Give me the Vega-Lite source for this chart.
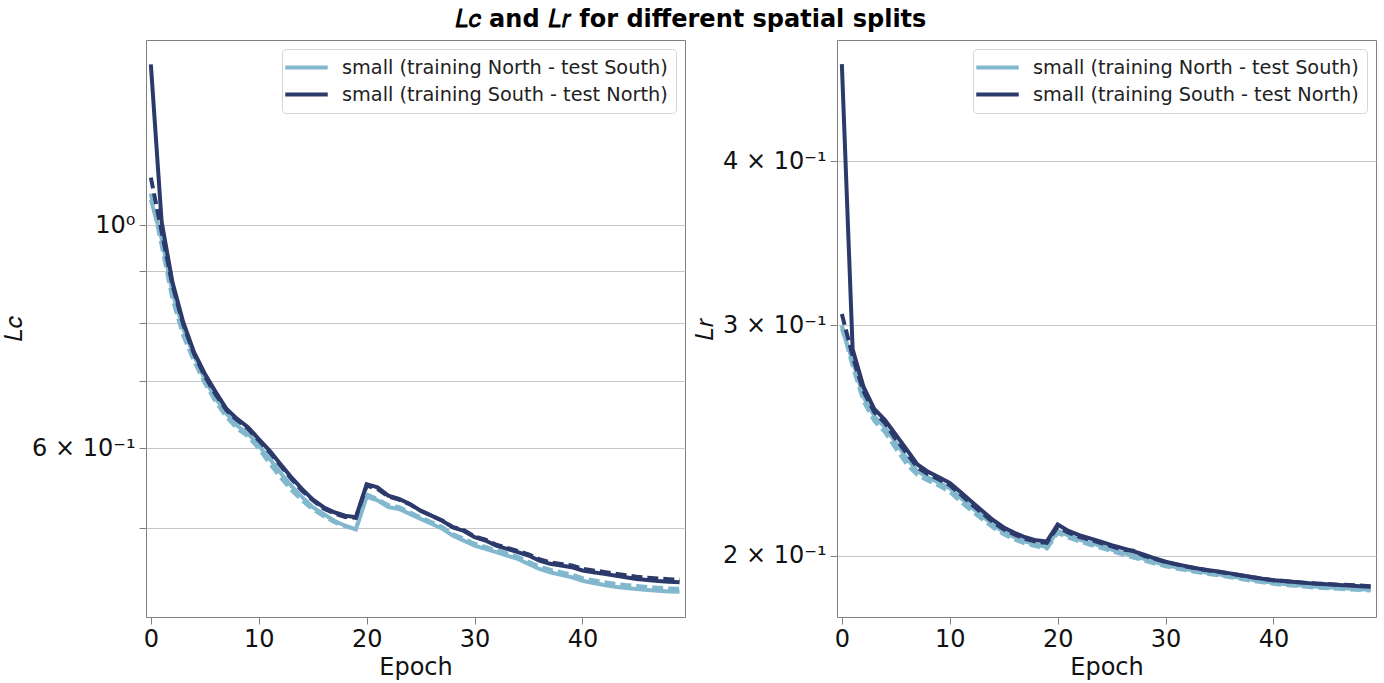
{
"$schema": "https://vega.github.io/schema/vega-lite/v6.json",
"padding": {"left": 2, "top": 7, "right": 6, "bottom": 0},
"title": {"text": "𝐿𝑐 and 𝐿𝑟 for different spatial splits", "font": "DejaVu Sans", "fontSize": 24, "fontWeight": "bold", "anchor": "middle", "color": "#000000", "offset": 8},
"config": {
  "font": "DejaVu Sans",
  "view": {"stroke": "#808080", "strokeWidth": 1},
  "axis": {"domain": false, "tickColor": "#808080", "tickSize": 7, "labelFontSize": 24, "labelColor": "#111111", "titleFontSize": 24, "titleColor": "#111111", "labelFont": "DejaVu Sans", "titleFont": "DejaVu Sans", "titleFontWeight": "normal", "gridColor": "#c8c8c8", "gridWidth": 1},
  "legend": {"orient": "top-right", "offset": 9, "labelFontSize": 19.3, "labelFont": "DejaVu Sans", "labelColor": "#222222", "symbolType": "M-2.5,0H2.5", "symbolStrokeWidth": 4, "symbolSize": 289, "symbolOffset": 6, "labelOffset": 25, "fillColor": "#ffffff", "strokeColor": "#d5d5d5", "cornerRadius": 4, "padding": 8, "rowPadding": 6, "labelLimit": 600}
},
"datasets": {
  "lc_n_train": [{"epoch":0,"loss":1.06},{"epoch":1,"loss":0.970},{"epoch":2,"loss":0.858},{"epoch":3,"loss":0.789},{"epoch":4,"loss":0.742},{"epoch":5,"loss":0.703},{"epoch":6,"loss":0.673},{"epoch":7,"loss":0.650},{"epoch":8,"loss":0.632},{"epoch":9,"loss":0.621},{"epoch":10,"loss":0.604},{"epoch":11,"loss":0.586},{"epoch":12,"loss":0.568},{"epoch":13,"loss":0.551},{"epoch":14,"loss":0.537},{"epoch":15,"loss":0.5245},{"epoch":16,"loss":0.5165},{"epoch":17,"loss":0.5085},{"epoch":18,"loss":0.5028},{"epoch":19,"loss":0.4985},{"epoch":20,"loss":0.5372},{"epoch":21,"loss":0.5328},{"epoch":22,"loss":0.5246},{"epoch":23,"loss":0.5225},{"epoch":24,"loss":0.5166},{"epoch":25,"loss":0.5108},{"epoch":26,"loss":0.505},{"epoch":27,"loss":0.4994},{"epoch":28,"loss":0.4914},{"epoch":29,"loss":0.486},{"epoch":30,"loss":0.4804},{"epoch":31,"loss":0.4769},{"epoch":32,"loss":0.4733},{"epoch":33,"loss":0.4696},{"epoch":34,"loss":0.466},{"epoch":35,"loss":0.4606},{"epoch":36,"loss":0.4554},{"epoch":37,"loss":0.452},{"epoch":38,"loss":0.4493},{"epoch":39,"loss":0.4468},{"epoch":40,"loss":0.4433},{"epoch":41,"loss":0.441},{"epoch":42,"loss":0.439},{"epoch":43,"loss":0.4373},{"epoch":44,"loss":0.436},{"epoch":45,"loss":0.435},{"epoch":46,"loss":0.434},{"epoch":47,"loss":0.4332},{"epoch":48,"loss":0.4326},{"epoch":49,"loss":0.4322}],
  "lc_n_test": [{"epoch":0,"loss":1.075},{"epoch":1,"loss":0.955},{"epoch":2,"loss":0.845},{"epoch":3,"loss":0.777},{"epoch":4,"loss":0.733},{"epoch":5,"loss":0.697},{"epoch":6,"loss":0.668},{"epoch":7,"loss":0.645},{"epoch":8,"loss":0.628},{"epoch":9,"loss":0.617},{"epoch":10,"loss":0.600},{"epoch":11,"loss":0.580},{"epoch":12,"loss":0.562},{"epoch":13,"loss":0.546},{"epoch":14,"loss":0.533},{"epoch":15,"loss":0.522},{"epoch":16,"loss":0.514},{"epoch":17,"loss":0.507},{"epoch":18,"loss":0.502},{"epoch":19,"loss":0.499},{"epoch":20,"loss":0.540},{"epoch":21,"loss":0.5345},{"epoch":22,"loss":0.527},{"epoch":23,"loss":0.5245},{"epoch":24,"loss":0.5185},{"epoch":25,"loss":0.5125},{"epoch":26,"loss":0.507},{"epoch":27,"loss":0.5012},{"epoch":28,"loss":0.4933},{"epoch":29,"loss":0.488},{"epoch":30,"loss":0.4825},{"epoch":31,"loss":0.479},{"epoch":32,"loss":0.4755},{"epoch":33,"loss":0.4718},{"epoch":34,"loss":0.4683},{"epoch":35,"loss":0.463},{"epoch":36,"loss":0.458},{"epoch":37,"loss":0.4546},{"epoch":38,"loss":0.452},{"epoch":39,"loss":0.4495},{"epoch":40,"loss":0.446},{"epoch":41,"loss":0.4438},{"epoch":42,"loss":0.4418},{"epoch":43,"loss":0.4402},{"epoch":44,"loss":0.4389},{"epoch":45,"loss":0.438},{"epoch":46,"loss":0.437},{"epoch":47,"loss":0.4362},{"epoch":48,"loss":0.4356},{"epoch":49,"loss":0.4352}],
  "lc_s_train": [{"epoch":0,"loss":1.445},{"epoch":1,"loss":1.008},{"epoch":2,"loss":0.878},{"epoch":3,"loss":0.801},{"epoch":4,"loss":0.748},{"epoch":5,"loss":0.712},{"epoch":6,"loss":0.683},{"epoch":7,"loss":0.657},{"epoch":8,"loss":0.642},{"epoch":9,"loss":0.630},{"epoch":10,"loss":0.613},{"epoch":11,"loss":0.597},{"epoch":12,"loss":0.579},{"epoch":13,"loss":0.562},{"epoch":14,"loss":0.547},{"epoch":15,"loss":0.534},{"epoch":16,"loss":0.5245},{"epoch":17,"loss":0.5185},{"epoch":18,"loss":0.5145},{"epoch":19,"loss":0.5127},{"epoch":20,"loss":0.553},{"epoch":21,"loss":0.549},{"epoch":22,"loss":0.5386},{"epoch":23,"loss":0.5346},{"epoch":24,"loss":0.5285},{"epoch":25,"loss":0.5204},{"epoch":26,"loss":0.5145},{"epoch":27,"loss":0.5085},{"epoch":28,"loss":0.5007},{"epoch":29,"loss":0.4968},{"epoch":30,"loss":0.4897},{"epoch":31,"loss":0.486},{"epoch":32,"loss":0.4804},{"epoch":33,"loss":0.4769},{"epoch":34,"loss":0.4733},{"epoch":35,"loss":0.4696},{"epoch":36,"loss":0.4643},{"epoch":37,"loss":0.4608},{"epoch":38,"loss":0.459},{"epoch":39,"loss":0.4573},{"epoch":40,"loss":0.4538},{"epoch":41,"loss":0.452},{"epoch":42,"loss":0.4503},{"epoch":43,"loss":0.4486},{"epoch":44,"loss":0.4468},{"epoch":45,"loss":0.4451},{"epoch":46,"loss":0.444},{"epoch":47,"loss":0.443},{"epoch":48,"loss":0.4424},{"epoch":49,"loss":0.4417}],
  "lc_s_test": [{"epoch":0,"loss":1.115},{"epoch":1,"loss":0.985},{"epoch":2,"loss":0.872},{"epoch":3,"loss":0.797},{"epoch":4,"loss":0.745},{"epoch":5,"loss":0.708},{"epoch":6,"loss":0.679},{"epoch":7,"loss":0.655},{"epoch":8,"loss":0.640},{"epoch":9,"loss":0.628},{"epoch":10,"loss":0.611},{"epoch":11,"loss":0.595},{"epoch":12,"loss":0.577},{"epoch":13,"loss":0.560},{"epoch":14,"loss":0.545},{"epoch":15,"loss":0.533},{"epoch":16,"loss":0.523},{"epoch":17,"loss":0.517},{"epoch":18,"loss":0.513},{"epoch":19,"loss":0.512},{"epoch":20,"loss":0.551},{"epoch":21,"loss":0.547},{"epoch":22,"loss":0.5375},{"epoch":23,"loss":0.5338},{"epoch":24,"loss":0.528},{"epoch":25,"loss":0.5202},{"epoch":26,"loss":0.5145},{"epoch":27,"loss":0.5088},{"epoch":28,"loss":0.5012},{"epoch":29,"loss":0.4978},{"epoch":30,"loss":0.4905},{"epoch":31,"loss":0.487},{"epoch":32,"loss":0.4815},{"epoch":33,"loss":0.478},{"epoch":34,"loss":0.4745},{"epoch":35,"loss":0.471},{"epoch":36,"loss":0.4658},{"epoch":37,"loss":0.4624},{"epoch":38,"loss":0.4607},{"epoch":39,"loss":0.459},{"epoch":40,"loss":0.4556},{"epoch":41,"loss":0.4539},{"epoch":42,"loss":0.4523},{"epoch":43,"loss":0.4507},{"epoch":44,"loss":0.449},{"epoch":45,"loss":0.4474},{"epoch":46,"loss":0.4464},{"epoch":47,"loss":0.4455},{"epoch":48,"loss":0.4449},{"epoch":49,"loss":0.4443}],
  "lr_n_train": [{"epoch":0,"loss":0.298},{"epoch":1,"loss":0.2818},{"epoch":2,"loss":0.2645},{"epoch":3,"loss":0.2556},{"epoch":4,"loss":0.2506},{"epoch":5,"loss":0.2440},{"epoch":6,"loss":0.2375},{"epoch":7,"loss":0.2320},{"epoch":8,"loss":0.2295},{"epoch":9,"loss":0.2274},{"epoch":10,"loss":0.2252},{"epoch":11,"loss":0.2215},{"epoch":12,"loss":0.2178},{"epoch":13,"loss":0.2145},{"epoch":14,"loss":0.2112},{"epoch":15,"loss":0.2085},{"epoch":16,"loss":0.2066},{"epoch":17,"loss":0.2050},{"epoch":18,"loss":0.2040},{"epoch":19,"loss":0.2030},{"epoch":20,"loss":0.2090},{"epoch":21,"loss":0.2072},{"epoch":22,"loss":0.2058},{"epoch":23,"loss":0.2046},{"epoch":24,"loss":0.2034},{"epoch":25,"loss":0.2022},{"epoch":26,"loss":0.2011},{"epoch":27,"loss":0.2000},{"epoch":28,"loss":0.1989},{"epoch":29,"loss":0.1978},{"epoch":30,"loss":0.1968},{"epoch":31,"loss":0.1960},{"epoch":32,"loss":0.1953},{"epoch":33,"loss":0.1946},{"epoch":34,"loss":0.1940},{"epoch":35,"loss":0.1935},{"epoch":36,"loss":0.1929},{"epoch":37,"loss":0.1923},{"epoch":38,"loss":0.1917},{"epoch":39,"loss":0.1912},{"epoch":40,"loss":0.1907},{"epoch":41,"loss":0.1903},{"epoch":42,"loss":0.1900},{"epoch":43,"loss":0.1897},{"epoch":44,"loss":0.1894},{"epoch":45,"loss":0.1892},{"epoch":46,"loss":0.1890},{"epoch":47,"loss":0.1888},{"epoch":48,"loss":0.1886},{"epoch":49,"loss":0.1884}],
  "lr_n_test": [{"epoch":0,"loss":0.2998},{"epoch":1,"loss":0.279},{"epoch":2,"loss":0.2625},{"epoch":3,"loss":0.2535},{"epoch":4,"loss":0.2485},{"epoch":5,"loss":0.2415},{"epoch":6,"loss":0.2350},{"epoch":7,"loss":0.2305},{"epoch":8,"loss":0.2282},{"epoch":9,"loss":0.2262},{"epoch":10,"loss":0.2238},{"epoch":11,"loss":0.2200},{"epoch":12,"loss":0.2165},{"epoch":13,"loss":0.2133},{"epoch":14,"loss":0.2102},{"epoch":15,"loss":0.2077},{"epoch":16,"loss":0.2058},{"epoch":17,"loss":0.2043},{"epoch":18,"loss":0.2034},{"epoch":19,"loss":0.2026},{"epoch":20,"loss":0.2082},{"epoch":21,"loss":0.2065},{"epoch":22,"loss":0.2051},{"epoch":23,"loss":0.2039},{"epoch":24,"loss":0.2028},{"epoch":25,"loss":0.2016},{"epoch":26,"loss":0.2005},{"epoch":27,"loss":0.1994},{"epoch":28,"loss":0.1983},{"epoch":29,"loss":0.1973},{"epoch":30,"loss":0.1963},{"epoch":31,"loss":0.1956},{"epoch":32,"loss":0.1949},{"epoch":33,"loss":0.1943},{"epoch":34,"loss":0.1937},{"epoch":35,"loss":0.1932},{"epoch":36,"loss":0.1926},{"epoch":37,"loss":0.1920},{"epoch":38,"loss":0.1914},{"epoch":39,"loss":0.1909},{"epoch":40,"loss":0.1904},{"epoch":41,"loss":0.1900},{"epoch":42,"loss":0.1897},{"epoch":43,"loss":0.1894},{"epoch":44,"loss":0.1891},{"epoch":45,"loss":0.1889},{"epoch":46,"loss":0.1887},{"epoch":47,"loss":0.1885},{"epoch":48,"loss":0.1883},{"epoch":49,"loss":0.1882}],
  "lr_s_train": [{"epoch":0,"loss":0.4745},{"epoch":1,"loss":0.2874},{"epoch":2,"loss":0.2692},{"epoch":3,"loss":0.2589},{"epoch":4,"loss":0.2539},{"epoch":5,"loss":0.2474},{"epoch":6,"loss":0.2411},{"epoch":7,"loss":0.2348},{"epoch":8,"loss":0.2318},{"epoch":9,"loss":0.2296},{"epoch":10,"loss":0.2273},{"epoch":11,"loss":0.2237},{"epoch":12,"loss":0.2200},{"epoch":13,"loss":0.2165},{"epoch":14,"loss":0.2130},{"epoch":15,"loss":0.2102},{"epoch":16,"loss":0.2082},{"epoch":17,"loss":0.2066},{"epoch":18,"loss":0.2055},{"epoch":19,"loss":0.2051},{"epoch":20,"loss":0.2113},{"epoch":21,"loss":0.2089},{"epoch":22,"loss":0.2074},{"epoch":23,"loss":0.2062},{"epoch":24,"loss":0.2050},{"epoch":25,"loss":0.2038},{"epoch":26,"loss":0.2027},{"epoch":27,"loss":0.2016},{"epoch":28,"loss":0.2004},{"epoch":29,"loss":0.1991},{"epoch":30,"loss":0.1979},{"epoch":31,"loss":0.1971},{"epoch":32,"loss":0.1963},{"epoch":33,"loss":0.1956},{"epoch":34,"loss":0.1950},{"epoch":35,"loss":0.1945},{"epoch":36,"loss":0.1939},{"epoch":37,"loss":0.1933},{"epoch":38,"loss":0.1927},{"epoch":39,"loss":0.1921},{"epoch":40,"loss":0.1916},{"epoch":41,"loss":0.1913},{"epoch":42,"loss":0.1910},{"epoch":43,"loss":0.1907},{"epoch":44,"loss":0.1904},{"epoch":45,"loss":0.1902},{"epoch":46,"loss":0.1900},{"epoch":47,"loss":0.1898},{"epoch":48,"loss":0.1896},{"epoch":49,"loss":0.1894}],
  "lr_s_test": [{"epoch":0,"loss":0.3058},{"epoch":1,"loss":0.284},{"epoch":2,"loss":0.267},{"epoch":3,"loss":0.2575},{"epoch":4,"loss":0.2525},{"epoch":5,"loss":0.2455},{"epoch":6,"loss":0.2395},{"epoch":7,"loss":0.2335},{"epoch":8,"loss":0.2308},{"epoch":9,"loss":0.2287},{"epoch":10,"loss":0.2264},{"epoch":11,"loss":0.2228},{"epoch":12,"loss":0.2190},{"epoch":13,"loss":0.2156},{"epoch":14,"loss":0.2122},{"epoch":15,"loss":0.2095},{"epoch":16,"loss":0.2076},{"epoch":17,"loss":0.2060},{"epoch":18,"loss":0.2050},{"epoch":19,"loss":0.2046},{"epoch":20,"loss":0.2105},{"epoch":21,"loss":0.2083},{"epoch":22,"loss":0.2068},{"epoch":23,"loss":0.2057},{"epoch":24,"loss":0.2045},{"epoch":25,"loss":0.2033},{"epoch":26,"loss":0.2022},{"epoch":27,"loss":0.2018},{"epoch":28,"loss":0.2000},{"epoch":29,"loss":0.1989},{"epoch":30,"loss":0.1978},{"epoch":31,"loss":0.1970},{"epoch":32,"loss":0.1962},{"epoch":33,"loss":0.1955},{"epoch":34,"loss":0.1949},{"epoch":35,"loss":0.1944},{"epoch":36,"loss":0.1938},{"epoch":37,"loss":0.1932},{"epoch":38,"loss":0.1926},{"epoch":39,"loss":0.1921},{"epoch":40,"loss":0.1916},{"epoch":41,"loss":0.1913},{"epoch":42,"loss":0.1910},{"epoch":43,"loss":0.1907},{"epoch":44,"loss":0.1905},{"epoch":45,"loss":0.1903},{"epoch":46,"loss":0.1901},{"epoch":47,"loss":0.1900},{"epoch":48,"loss":0.1898},{"epoch":49,"loss":0.1896}]
},
"spacing": 4,
"resolve": {"scale": {"x": "independent", "y": "independent", "color": "independent"}, "legend": {"color": "independent"}},
"hconcat": [
  {
    "width": 539, "height": 577,
    "encoding": {
      "x": {"field": "epoch", "type": "quantitative", "scale": {"domain": [-0.45, 49.5], "nice": false, "zero": false}, "axis": {"values": [0, 10, 20, 30, 40], "grid": false, "title": "Epoch", "labelPadding": 3, "titlePadding": 4, "labelFlush": false}},
      "y": {"field": "loss", "type": "quantitative", "scale": {"type": "log", "domain": [0.408, 1.528], "nice": false}, "axis": {"values": [0.5, 0.6, 0.7, 0.8, 0.9, 1], "labelExpr": "abs(datum.value - 1) < 0.001 ? '10⁰' : (abs(datum.value - 0.6) < 0.001 ? '6 × 10⁻¹' : '')", "grid": true, "title": "𝐿𝑐", "titlePadding": 5, "labelPadding": 4}}
    },
    "layer": [
      {"data": {"name": "lc_n_train"}, "mark": {"type": "line", "strokeWidth": 4}, "encoding": {"color": {"datum": "small (training North - test South)", "scale": {"domain": ["small (training North - test South)", "small (training South - test North)"], "range": ["#82b8ce", "#2c3a6b"]}, "legend": {"title": null}}}},
      {"data": {"name": "lc_n_test"}, "mark": {"type": "line", "strokeWidth": 4, "strokeDash": [11, 5]}, "encoding": {"color": {"datum": "small (training North - test South)", "scale": {"domain": ["small (training North - test South)", "small (training South - test North)"], "range": ["#82b8ce", "#2c3a6b"]}, "legend": {"title": null}}}},
      {"data": {"name": "lc_s_train"}, "mark": {"type": "line", "strokeWidth": 4}, "encoding": {"color": {"datum": "small (training South - test North)", "scale": {"domain": ["small (training North - test South)", "small (training South - test North)"], "range": ["#82b8ce", "#2c3a6b"]}, "legend": {"title": null}}}},
      {"data": {"name": "lc_s_test"}, "mark": {"type": "line", "strokeWidth": 4, "strokeDash": [11, 5]}, "encoding": {"color": {"datum": "small (training South - test North)", "scale": {"domain": ["small (training North - test South)", "small (training South - test North)"], "range": ["#82b8ce", "#2c3a6b"]}, "legend": {"title": null}}}}
    ]
  },
  {
    "width": 539, "height": 577,
    "encoding": {
      "x": {"field": "epoch", "type": "quantitative", "scale": {"domain": [-0.45, 49.5], "nice": false, "zero": false}, "axis": {"values": [0, 10, 20, 30, 40], "grid": false, "title": "Epoch", "labelPadding": 3, "titlePadding": 4, "labelFlush": false}},
      "y": {"field": "loss", "type": "quantitative", "scale": {"type": "log", "domain": [0.1796, 0.495], "nice": false}, "axis": {"values": [0.2, 0.3, 0.4], "labelExpr": "round(datum.value * 10) + ' × 10⁻¹'", "grid": true, "title": "𝐿𝑟", "titlePadding": 5, "labelPadding": 4}}
    },
    "layer": [
      {"data": {"name": "lr_n_train"}, "mark": {"type": "line", "strokeWidth": 4}, "encoding": {"color": {"datum": "small (training North - test South)", "scale": {"domain": ["small (training North - test South)", "small (training South - test North)"], "range": ["#82b8ce", "#2c3a6b"]}, "legend": {"title": null}}}},
      {"data": {"name": "lr_n_test"}, "mark": {"type": "line", "strokeWidth": 4, "strokeDash": [11, 5]}, "encoding": {"color": {"datum": "small (training North - test South)", "scale": {"domain": ["small (training North - test South)", "small (training South - test North)"], "range": ["#82b8ce", "#2c3a6b"]}, "legend": {"title": null}}}},
      {"data": {"name": "lr_s_train"}, "mark": {"type": "line", "strokeWidth": 4}, "encoding": {"color": {"datum": "small (training South - test North)", "scale": {"domain": ["small (training North - test South)", "small (training South - test North)"], "range": ["#82b8ce", "#2c3a6b"]}, "legend": {"title": null}}}},
      {"data": {"name": "lr_s_test"}, "mark": {"type": "line", "strokeWidth": 4, "strokeDash": [11, 5]}, "encoding": {"color": {"datum": "small (training South - test North)", "scale": {"domain": ["small (training North - test South)", "small (training South - test North)"], "range": ["#82b8ce", "#2c3a6b"]}, "legend": {"title": null}}}}
    ]
  }
]
}
